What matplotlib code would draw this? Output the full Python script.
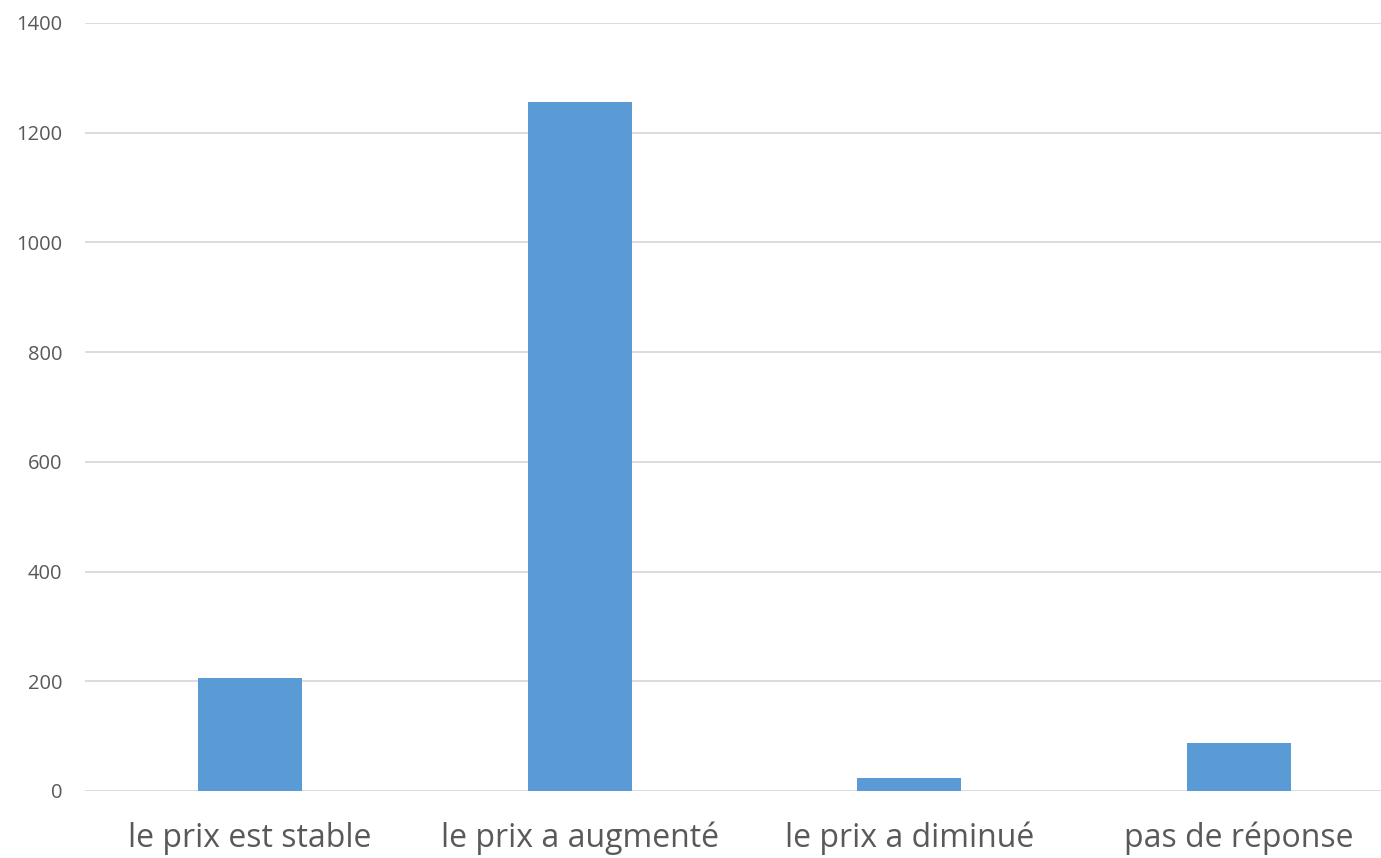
import matplotlib.pyplot as plt
from matplotlib.ticker import MultipleLocator

# données
categories = ['le prix est stable', 'le prix a augmenté', 'le prix a diminué', 'pas de réponse']
valeurs = [206, 1256, 24, 87]

plt.rcParams['font.family'] = ['Open Sans', 'DejaVu Sans']

fig = plt.figure(figsize=(13.81, 8.58), dpi=100)
# l'axe dépasse un peu à droite, comme dans l'image d'origine (recadrée)
ax = fig.add_axes([85 / 1381, 67 / 858, 1319 / 1381, 768 / 858])

x = range(len(categories))
ax.bar(x, valeurs, width=0.315, color='#5B9BD5', zorder=3)

ax.set_xlim(-0.5, len(categories) - 0.5)
ax.set_ylim(0, 1400)
ax.yaxis.set_major_locator(MultipleLocator(200))
ax.grid(axis='y', color='#D9D9D9', linewidth=1.3, zorder=0)

for spine in ax.spines.values():
    spine.set_visible(False)

ax.set_xticks(list(x))
ax.set_xticklabels(categories, fontsize=23, color='#595959')
ax.tick_params(axis='x', length=0, pad=22)
ax.tick_params(axis='y', length=0, labelsize=14.5, labelcolor='#595959', pad=16.5)

fig.savefig('out.png', dpi=100)
